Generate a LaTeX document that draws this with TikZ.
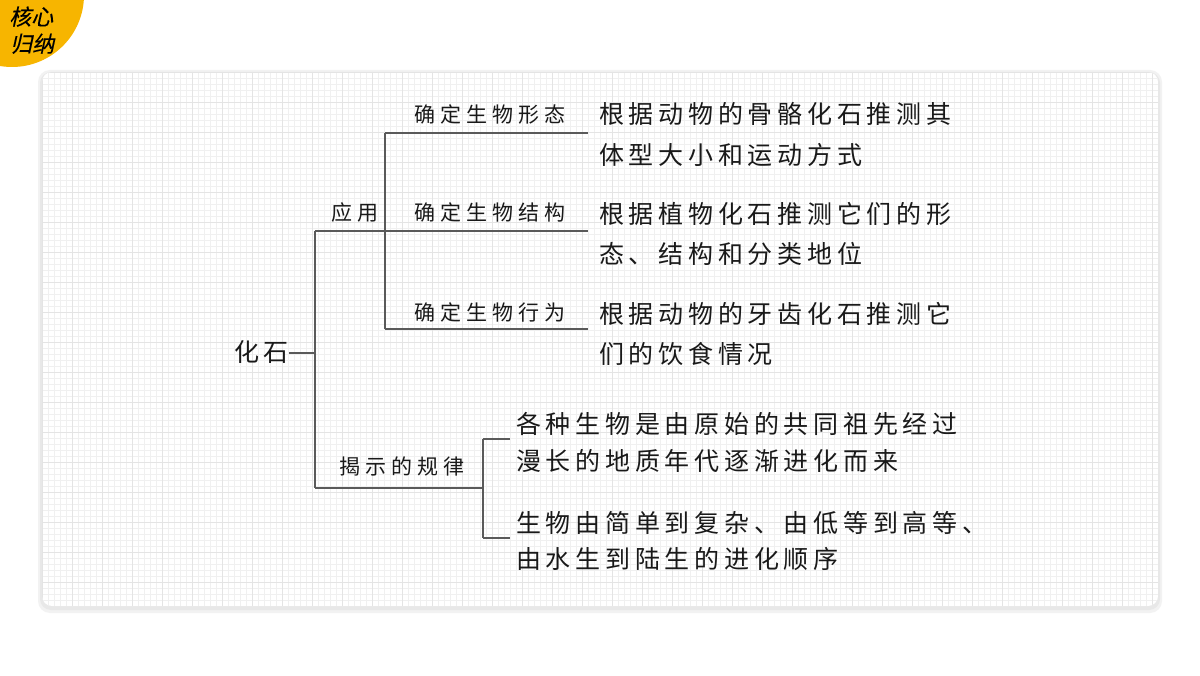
\documentclass[tikz,border=0pt]{standalone}
\usepackage{fontspec}
\newfontfamily\cjk[LetterSpace=19]{Noto Sans CJK SC}
\newfontfamily\cjklab[LetterSpace=24]{Noto Sans CJK SC}
\newfontfamily\cjkbadge[FakeSlant=0.22,FakeBold=0.3]{Noto Sans CJK SC}
\definecolor{badge}{HTML}{F7B500}
\definecolor{linec}{HTML}{5A5A5A}
\definecolor{gridminor}{HTML}{F0F0F0}
\definecolor{gridmajor}{HTML}{E4E4E4}
\tikzset{
  conn/.style={draw=linec, line width=1.6pt},
  body/.style={anchor=base west, inner sep=0pt, font=\cjk\fontsize{25}{30}\selectfont, text=black!90},
  lab/.style={anchor=base west, inner sep=0pt, font=\cjklab\fontsize{21}{26}\selectfont, text=black!90},
  badgetext/.style={anchor=base west, inner sep=0pt, font=\cjkbadge\fontsize{22}{26}\selectfont, text=black}
}
\begin{document}
\begin{tikzpicture}[x=1pt,y=-1pt]
\useasboundingbox (0,0) rectangle (1200,676);
\fill[white] (0,0) rectangle (1200,676);
% panel shadow
\fill[black!5, rounded corners=12pt] (38,70) rectangle (1162,613);
\fill[black!9, rounded corners=11pt] (40,72) rectangle (1160,610);
% panel
\begin{scope}
\clip[rounded corners=10pt] (42,72) rectangle (1158,606);
\fill[white] (42,72) rectangle (1158,606);
\foreach \gx in {42,48,...,1158} \draw[gridminor, line width=0.5pt] (\gx,72) -- (\gx,606);
\foreach \gy in {72,78,...,606} \draw[gridminor, line width=0.5pt] (42,\gy) -- (1158,\gy);
\foreach \gx in {42,72,...,1158} \draw[gridmajor, line width=0.6pt] (\gx,72) -- (\gx,606);
\foreach \gy in {72,102,...,606} \draw[gridmajor, line width=0.6pt] (42,\gy) -- (1158,\gy);
\end{scope}
% badge
\fill[badge] (12,-5) circle (72);
\node[badgetext] (b1) at (9,25) {核心};
\node[badgetext] (b2) at (10,52) {归纳};

% root
\node[anchor=base west, inner sep=0pt, font=\cjk\fontsize{25}{30}\selectfont, text=black!90] (root) at (234,362) {化石};
\coordinate (rj) at (315,353);
\coordinate (ya) at (315,231);
\coordinate (yb) at (315,488);
\draw[conn] (root.east |- rj) -- (rj);
\draw[conn] (ya) -- (yb);

% application branch
\node[lab] (yy) at (331,221) {应用};
\coordinate (aend) at (588,231);
\draw[conn] (ya) -- (aend);
\coordinate (at) at (385,133);
\coordinate (ab) at (385,329);
\draw[conn] (at) -- (ab);
\coordinate (e1) at (588,133);
\coordinate (e3) at (588,329);
\draw[conn] (at) -- (e1);
\draw[conn] (ab) -- (e3);

\node[lab] (l1) at (414,123) {确定生物形态};
\node[lab] (l2) at (414,221) {确定生物结构};
\node[lab] (l3) at (414,321) {确定生物行为};

\node[body] (r1a) at (599,123.5) {根据动物的骨骼化石推测其};
\node[body] (r1b) at (599,164.5) {体型大小和运动方式};
\node[body] (r2a) at (599,223.5) {根据植物化石推测它们的形};
\node[body] (r2b) at (599,263.5) {态、结构和分类地位};
\node[body] (r3a) at (599,323.5) {根据动物的牙齿化石推测它};
\node[body] (r3b) at (599,363.5) {们的饮食情况};

% rule branch
\node[lab] (gl) at (339,474) {揭示的规律};
\coordinate (gj) at (483,488);
\draw[conn] (yb) -- (gj);
\coordinate (gt) at (483,439);
\coordinate (gb) at (483,538);
\draw[conn] (gt) -- (gb);
\coordinate (gte) at (510,439);
\coordinate (gbe) at (510,538);
\draw[conn] (gt) -- (gte);
\draw[conn] (gb) -- (gbe);

\node[body] (s1a) at (516,433.5) {各种生物是由原始的共同祖先经过};
\node[body] (s1b) at (516,470.5) {漫长的地质年代逐渐进化而来};
\node[body] (s2a) at (516,532.5) {生物由简单到复杂、由低等到高等、};
\node[body] (s2b) at (516,568.5) {由水生到陆生的进化顺序};
\end{tikzpicture}
\end{document}
